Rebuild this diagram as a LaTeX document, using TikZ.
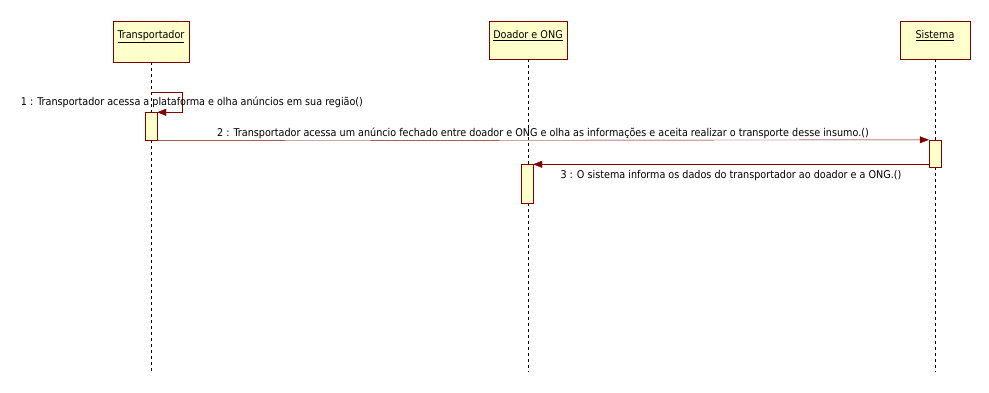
\documentclass[tikz,border=0pt]{standalone}
\usepackage{fontspec}
\setmainfont{DejaVu Sans Condensed}
\usetikzlibrary{arrows.meta}
\definecolor{umlred}{RGB}{128,0,0}
\definecolor{umlfill}{RGB}{255,255,204}

\begin{document}
\begin{tikzpicture}[x=1pt, y=-1pt,
   every node/.style={font=\fontsize{10.7}{12}\selectfont},
   actor/.style={draw=umlred, fill=umlfill, anchor=north, minimum height=41pt,
                 inner ysep=4pt, text height=13pt, text depth=20pt},
   act/.style={draw=umlred, fill=umlfill, minimum width=12pt, inner sep=0pt},
   lifeline/.style={draw=black, dash pattern=on 3pt off 3pt},
   msg/.style={draw=umlred, -{Triangle[length=9pt,width=7pt]}},
   msglabel/.style={inner sep=1pt}]

\useasboundingbox (0,0) rectangle (989,393);

% objects
\node[actor, minimum width=76pt] (trans) at (151,21) {\underline{Transportador}};
\node[actor, minimum width=78pt, minimum height=38pt, text depth=17pt] (doador) at (528,21) {\underline{Doador e ONG}};
\node[actor, minimum width=70pt, minimum height=38pt, text depth=17pt] (sist) at (935,21) {\underline{Sistema}};

% lifelines
\foreach \obj/\x in {trans/151, doador/528, sist/935} {
  \coordinate (\obj End) at (\x,372);
  \draw[lifeline] (\obj.south) -- (\obj End);
}

% activations
\node[act, minimum height=28pt] (act1) at (151,126.5) {};
\node[act, minimum height=27pt] (act2) at (935,153.5) {};
\node[act, minimum height=39pt] (act3) at (527,184) {};

% messages
\coordinate (self1) at (151,92);
\draw[msg] (self1) -- ++(31,0) |- (act1.north east);
\node[msglabel] (m1) at (192,102) {1 : Transportador acessa a plataforma e olha anúncios em sua região()};

\draw[msg] (act1.south east) -- (act2.north west)
  node[msglabel, midway, above] (m2) {2 : Transportador acessa um anúncio fechado entre doador e ONG e olha as informações e aceita realizar o transporte desse insumo.()};

\draw[msg] (act2.west |- act3.north) -- (act3.north east)
  node[msglabel, midway, below=5pt] (m3) {3 : O sistema informa os dados do transportador ao doador e a ONG.()};

\end{tikzpicture}
\end{document}
